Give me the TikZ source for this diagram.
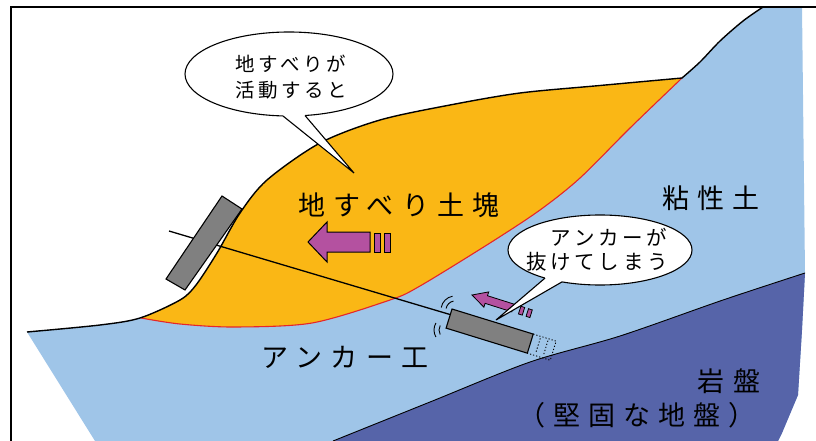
\documentclass[tikz,border=0pt]{standalone}
\usepackage{fontspec}
\newfontfamily\jpL[LetterSpace=30]{Noto Sans CJK JP}
\newfontfamily\jpS[LetterSpace=18]{Noto Sans CJK JP}
\usetikzlibrary{shapes.geometric}
\definecolor{slidecol}{HTML}{FAB715}
\definecolor{claycol}{HTML}{9FC5E8}
\definecolor{rockcol}{HTML}{5664A9}
\definecolor{arrowcol}{HTML}{B451A0}
\definecolor{platecol}{HTML}{808080}
\definecolor{slipcol}{HTML}{E5262A}
\begin{document}
\begin{tikzpicture}[x=1pt,y=-1pt,
  outl/.style={draw=black, line width=1.1pt, line join=miter},
  bigtext/.style={font=\jpL\fontsize{27}{27}\selectfont, inner sep=0pt},
  calltext/.style={font=\jpS\fontsize{19.5}{19.5}\selectfont, inner sep=0pt},
  bubble/.style={ellipse, draw=black, line width=1.1pt, fill=white, inner sep=0pt},
  arrowshape/.style={fill=arrowcol, draw=black, line width=1pt, line join=miter},
  vib/.style={draw=black, line width=0.9pt}]
\useasboundingbox (0,0) rectangle (816,441);

% clay layer (everything below the ground surface)
\fill[claycol] plot[smooth,tension=0.5] coordinates {(27,332) (100,325) (140,318) (180,300) (196,285) (217,253) (240,213) (267,180) (320,143) (380,120) (450,105) (520,93) (600,85.5) (682,78)}
  -- plot[smooth,tension=0.5] coordinates {(682,78) (700,62) (720,41) (743,21) (763,7)}
  -- (802,7) -- (805,273) -- (802,330) -- (798,395) -- (782,433) -- (778,441) -- (95,441) -- cycle;

% bedrock
\fill[rockcol] plot[smooth,tension=0.5] coordinates {(333,441) (430,402) (530,362) (620,336) (723,300) (805,273)}
  -- (802,330) -- (798,395) -- (782,433) -- (778,441) -- cycle;
\draw[line width=0.9pt] plot[smooth,tension=0.5] coordinates {(333,441) (430,402) (530,362) (620,336) (723,300) (805,273)};

% landslide mass: above the slip surface, below the ground
\begin{scope}
  \clip plot[smooth,tension=0.5] coordinates {(27,332) (100,325) (140,318) (180,300) (196,285) (217,253) (240,213) (267,180) (320,143) (380,120) (450,105) (520,93) (600,85.5) (682,78)}
    -- plot[smooth,tension=0.5] coordinates {(682,78) (700,62) (720,41) (743,21) (763,7)}
    -- (802,7) -- (805,273) -- (782,441) -- (95,441) -- cycle;
  \fill[slidecol] plot[smooth,tension=0.5] coordinates {(141,318) (180,324) (234,327) (312,323) (390,300) (420,286) (490,243) (540,210) (580,178) (630,128) (682,78)}
    -- (682,0) -- (0,0) -- (0,318) -- cycle;
\end{scope}

% slip surface
\draw[slipcol, line width=1.1pt] plot[smooth,tension=0.5] coordinates {(141,318) (180,324) (234,327) (312,323) (390,300) (420,286) (490,243) (540,210) (580,178) (630,128) (682,78)};

% ground surface
\draw[line width=1.4pt] plot[smooth,tension=0.5] coordinates {(27,332) (100,325) (140,318) (180,300) (196,285) (217,253) (240,213) (267,180) (320,143) (380,120) (450,105) (520,93) (600,85.5) (682,78)};
\draw[line width=1.4pt] plot[smooth,tension=0.5] coordinates {(682,78) (700,62) (720,41) (743,21) (763,7)};

% anchor: bearing plate, tendon, fixed body
\coordinate (tendonend) at (169,231);
\coordinate (bodyend) at (455,316);
\draw[line width=1.3pt] (tendonend) -- (bodyend);
\draw[outl, fill=platecol] (222,196) -- (242,209) -- (185,290) -- (166,279) -- cycle;

\begin{scope}[shift={(452,309)}, rotate=-17.15]
  \draw[black, line width=0.9pt, dash pattern=on 1.2pt off 2pt] (85,0) -- (109,0) -- (109,20) -- (85,20);
  \draw[black, line width=0.9pt, dash pattern=on 1.2pt off 2pt] (93,2) -- (93,18) (101,2) -- (101,18);
  \draw[outl, fill=platecol] (0,0) rectangle (85,20);
\end{scope}

% vibration marks
\draw[vib] ([shift={(190:9)}]455,310) arc[start angle=190, end angle=260, radius=9];
\draw[vib] ([shift={(190:14)}]455,310) arc[start angle=190, end angle=260, radius=14];
\draw[vib] ([shift={(150:9)}]448,330) arc[start angle=150, end angle=210, radius=9];
\draw[vib] ([shift={(150:14)}]448,330) arc[start angle=150, end angle=210, radius=14];

% movement of the landslide mass
\draw[arrowshape] (308,242) -- (327,222) -- (327,232) -- (370,232) -- (370,252) -- (327,252) -- (327,262) -- cycle;
\draw[arrowshape] (374,233) rectangle (380,252);
\draw[arrowshape] (384,233) rectangle (390,252);

% anchor being pulled out
\begin{scope}[shift={(472,295)}, rotate=-17.6]
  \draw[arrowshape, line width=0.8pt] (0,0) -- (15,-8) -- (15,-4) -- (43,-4) -- (43,4) -- (15,4) -- (15,8) -- cycle;
  \draw[arrowshape, line width=0.8pt] (50,-4) rectangle (54,4);
  \draw[arrowshape, line width=0.8pt] (58,-4) rectangle (62,4);
\end{scope}

% callout: landslide activity
\node[bubble, minimum width=208pt, minimum height=84pt] (callA) at (289,74) {};
\coordinate (tipA) at (354,173);
\fill[white] (283,110) -- (283,116) -- (tipA) -- (305,115.5) -- (305,110) -- cycle;
\draw[line width=1.1pt, line join=miter] (283,116) -- (tipA) -- (305,115.5);
\node[calltext] (callA1) at (291,64) {地すべりが};
\node[calltext] (callA2) at (291,90) {活動すると};

% callout: anchor pulled out
\node[bubble, minimum width=184pt, minimum height=70pt] (callB) at (600,250) {};
\coordinate (tipB) at (496,320);
\fill[white] (545,273) -- (545,278.1) -- (tipB) -- (562,281.9) -- (562,276) -- cycle;
\draw[line width=1.1pt, line join=miter] (545,278.1) -- (tipB) -- (562,281.9);
\node[calltext, font=\jpS\fontsize{20.5}{20.5}\selectfont] (callB1) at (609,237.5) {アンカーが};
\node[calltext, font=\jpS\fontsize{20.5}{20.5}\selectfont] (callB2) at (597,262) {抜けてしまう};

% labels
\node[bigtext] (mass) at (399,205) {地すべり土塊};
\node[bigtext] (clay) at (711,198) {粘性土};
\node[bigtext] (anchor) at (345,357) {アンカー工};
\node[bigtext] (rock) at (729,381) {岩盤};
\node[bigtext] (rocknote) at (637,415) {（堅固な地盤）};

% frame
\draw[line width=2.5pt] (816,7) -- (11,7) -- (11,441);
\end{tikzpicture}
\end{document}
